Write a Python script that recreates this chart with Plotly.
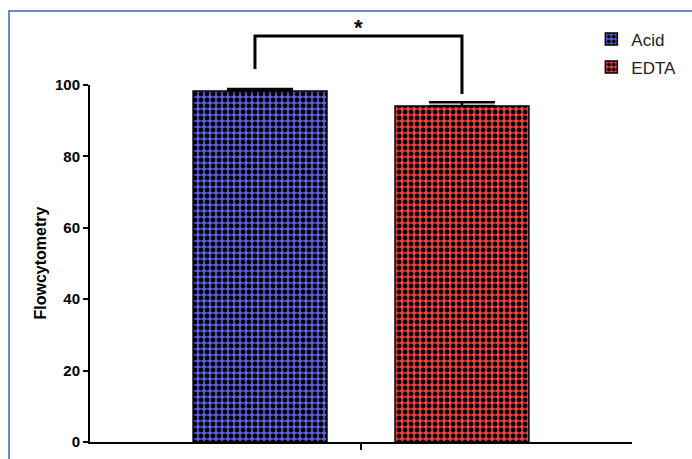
import plotly.graph_objects as go

# ---- data ----
groups = ["Acid", "EDTA"]
means = [98.3, 94.1]
errors = [0.6, 1.1]
colors = ["#5b5fe0", "#f53d3d"]
y_ticks = [0, 20, 40, 60, 80, 100]
y_title = "Flowcytometry"
sig_label = "*"
# bracket heights in data units: left leg bottom, top, right leg bottom
bracket_levels = [104.5, 113.7, 97.5]

W, H = 692, 459
L, R, T, B = 90, 60, 85, 17
x_range = [-0.842, 1.842]
y_range = [0, 100]

def px_x(v):
    return (v - x_range[0]) / (x_range[1] - x_range[0])

def px_y(v):
    return (v - y_range[0]) / (y_range[1] - y_range[0])

fig = go.Figure()
for i, g in enumerate(groups):
    fig.add_trace(go.Bar(
        x=[i], y=[means[i]], name=g, width=0.663, legendgroup=g,
        marker=dict(color=colors[i],
                    line=dict(color="black", width=1.5),
                    pattern=dict(shape=".", size=6, solidity=0.52,
                                 fgcolor="black", bgcolor=colors[i],
                                 fillmode="replace")),
        error_y=dict(type="data", symmetric=False, array=[errors[i]],
                     arrayminus=[0], color="black", thickness=2.5, width=33),
    ))

font = "Arial, Liberation Sans, sans-serif"
fig.update_layout(
    width=W, height=H,
    margin=dict(l=L, r=R, t=T, b=B, autoexpand=False),
    paper_bgcolor="white", plot_bgcolor="white",
    barmode="overlay",
    showlegend=True,
    legend=dict(x=0.925, y=1.178, xanchor="left", yanchor="top",
                font=dict(family=font, size=17, color="#222"),
                bgcolor="rgba(0,0,0,0)", itemwidth=30, tracegroupgap=3),
    xaxis=dict(range=x_range, showgrid=False, zeroline=False,
               showline=True, linecolor="black", linewidth=2,
               tickvals=[0.5], ticktext=[""], ticks="outside", ticklen=6,
               tickwidth=2, tickcolor="black"),
    yaxis=dict(range=y_range, showgrid=False, zeroline=False,
               showline=True, linecolor="black", linewidth=2,
               tickvals=y_ticks, ticks="outside", ticklen=5, tickwidth=2,
               tickcolor="black",
               tickfont=dict(family=font, size=15, color="black", weight="bold")),
)

# y axis title
fig.add_annotation(text="<b>" + y_title + "</b>", xref="paper", yref="paper",
                   x=(40 - L) / (W - L - R), y=0.5, xanchor="center", yanchor="middle",
                   showarrow=False, textangle=-90,
                   font=dict(family=font, size=16, color="black"))

# significance bracket
xl, xr = px_x(-0.025), px_x(1.0)
yl, yt, yr = [px_y(v) for v in bracket_levels]
fig.add_shape(type="path", xref="paper", yref="paper",
              path=f"M {xl} {yl} L {xl} {yt} L {xr} {yt} L {xr} {yr}",
              line=dict(color="black", width=3))
fig.add_annotation(text="<b>" + sig_label + "</b>", xref="paper", yref="paper",
                   x=(xl + xr) / 2, y=yt, yanchor="bottom", yshift=-6,
                   xanchor="center", showarrow=False,
                   font=dict(family=font, size=22, color="black"))

# blue frame of the cropped figure (left and top edges)
fl = (9 - L) / (W - L - R)
ft = (442 - 11) / (H - T - B)
fb = -B / (H - T - B)
fr = (W - L) / (W - L - R)
fig.add_shape(type="path", xref="paper", yref="paper",
              path=f"M {fl} {fb} L {fl} {ft} L {fr} {ft}",
              line=dict(color="#3d63c0", width=1.5))

fig.write_html("out.html", config={"displayModeBar": False},
               post_script="document.body.style.margin='0';document.body.style.overflow='hidden';")
